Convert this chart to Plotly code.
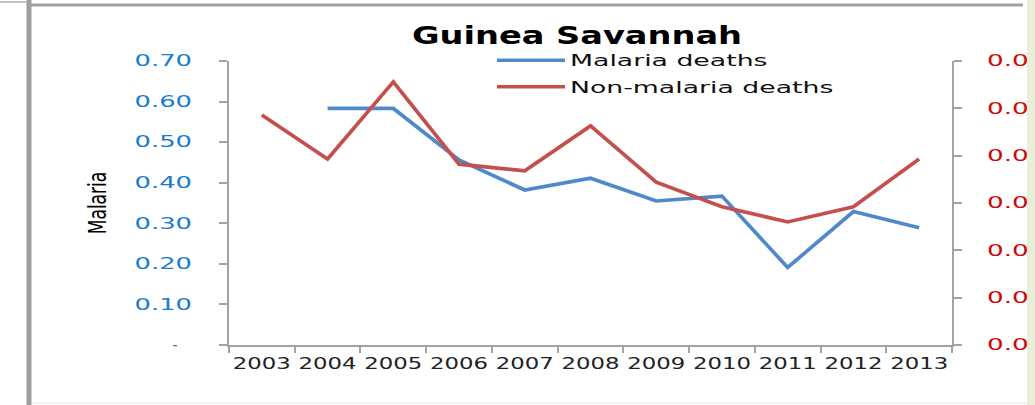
import plotly.graph_objects as go

# ---------------- data ----------------
years = ['2003', '2004', '2005', '2006', '2007', '2008', '2009', '2010', '2011', '2012', '2013']
malaria_deaths = [None, 0.583, 0.583, 0.456, 0.382, 0.411, 0.355, 0.367, 0.191, 0.329, 0.289]
non_malaria_deaths = [0.0486, 0.0393, 0.0556, 0.0382, 0.0368, 0.0463, 0.0344, 0.0292, 0.0260, 0.0292, 0.0393]

left_tickvals = [0, 0.1, 0.2, 0.3, 0.4, 0.5, 0.6, 0.7]
left_ticktext = ['-\u00a0\u00a0\u00a0', '0.10', '0.20', '0.30', '0.40', '0.50', '0.60', '0.70']
right_tickvals = [0, 0.01, 0.02, 0.03, 0.04, 0.05, 0.06]
right_ticktext = ['0.000', '0.010', '0.020', '0.030', '0.040', '0.050', '0.060']

title_text = 'Guinea Savannah'
y_title = 'Malaria'
series_names = ['Malaria deaths', 'Non-malaria deaths']

# ---------------- geometry / style ----------------
W, H = 1035, 405
PL, PR, PT, PB = 229, 952, 61, 345  # plot area in px


def px(x):
    return (x - PL) / (PR - PL)


def py(y):
    return (PB - y) / (PB - PT)


AXIS_GRAY = '#a3a3a3'
BLUE = '#5089ca'
RED = '#c4504d'
FONT = 'DejaVu Sans, Verdana, sans-serif'

fig = go.Figure()
fig.add_trace(go.Scatter(x=years, y=malaria_deaths, name=series_names[0], mode='lines',
                         legendgroup='a', line=dict(color=BLUE, width=3.7), yaxis='y'))
fig.add_trace(go.Scatter(x=years, y=non_malaria_deaths, name=series_names[1], mode='lines',
                         legendgroup='b', line=dict(color=RED, width=3.7), yaxis='y2'))

shapes = [
    # outer frame (screenshot borders)
    dict(type='line', xref='paper', yref='paper', x0=px(29), x1=px(29), y0=py(-2), y1=py(407),
         line=dict(color='#9c9c9c', width=5), layer='above'),
    dict(type='line', xref='paper', yref='paper', x0=px(29), x1=px(1023), y0=py(5), y1=py(5),
         line=dict(color='#a2a2a2', width=3), layer='above'),
    dict(type='line', xref='paper', yref='paper', x0=px(0), x1=px(27), y0=py(2), y1=py(2),
         line=dict(color='#c4c4c4', width=2), layer='above'),
    dict(type='line', xref='paper', yref='paper', x0=px(32), x1=px(1027), y0=py(403), y1=py(403),
         line=dict(color='#eeeeee', width=1.5), layer='above'),
    dict(type='rect', xref='paper', yref='paper', x0=px(1027), x1=px(1037), y0=py(407), y1=py(-2),
         fillcolor='#e9eed9', line=dict(width=0), layer='above'),
]

fig.update_layout(
    width=W, height=H,
    margin=dict(l=PL, r=W - PR, t=PT, b=H - PB, pad=0, autoexpand=False),
    paper_bgcolor='white', plot_bgcolor='white',
    showlegend=True,
    title=dict(text='<b>' + title_text + '</b>', x=577 / W, xref='container', xanchor='center',
               y=1 - 36 / H, yref='container', yanchor='middle',
               font=dict(family=FONT, size=24, color='black')),
    legend=dict(x=px(492), xanchor='left', y=py(44), yanchor='top',
                bgcolor='rgba(0,0,0,0)', borderwidth=0, itemwidth=68,
                traceorder='grouped', tracegroupgap=4,
                font=dict(family=FONT, size=15, color='#111111')),
    xaxis=dict(type='category', range=[-0.5, 10.5], showline=True, linecolor=AXIS_GRAY, linewidth=2,
               ticks='outside', ticklen=6, tickwidth=2, tickcolor=AXIS_GRAY, tickson='boundaries',
               showgrid=False, zeroline=False, ticklabelstandoff=4, automargin=False,
               tickfont=dict(family=FONT, size=15, color='#222222')),
    yaxis=dict(range=[0, 0.7], tickvals=left_tickvals, ticktext=left_ticktext,
               showline=True, linecolor=AXIS_GRAY, linewidth=2, ticks='outside', ticklen=8,
               tickwidth=2, tickcolor=AXIS_GRAY, showgrid=False, zeroline=False,
               ticklabelstandoff=24, automargin=False,
               tickfont=dict(family=FONT, size=15, color='#1a7ccc'),
               title=dict(text=y_title, standoff=49,
                          font=dict(family='Liberation Sans Narrow, DejaVu Sans Condensed, Arial Narrow, sans-serif',
                                    size=19, color='black'))),
    yaxis2=dict(range=[0, 0.06], tickvals=right_tickvals, ticktext=right_ticktext, overlaying='y',
                side='right', showline=True, linecolor=AXIS_GRAY, linewidth=2, ticks='outside',
                ticklen=8, tickwidth=2, tickcolor=AXIS_GRAY, showgrid=False, zeroline=False,
                ticklabelstandoff=22, automargin=False,
                tickfont=dict(family=FONT, size=15, color='#cc0a0a')),
    shapes=shapes,
)

# page without body margin; horizontal stretch of the text, as in the stretched reference picture
post_script = """
document.documentElement.style.margin = '0';
document.documentElement.style.overflow = 'hidden';
document.body.style.margin = '0';
document.body.style.overflow = 'hidden';
var gd = document.getElementById('{plot_id}');
function fitW(el, w) { el.setAttribute('lengthAdjust', 'spacingAndGlyphs'); el.setAttribute('textLength', w); }
function stretch(sel, k) {
  gd.querySelectorAll(sel).forEach(function(t) {
    if (/[0-9A-Za-z]/.test(t.textContent)) { fitW(t, t.getComputedTextLength() * k); }
  });
}
gd.querySelectorAll('g.legend g.scrollbox').forEach(function(g) { g.removeAttribute('clip-path'); });
stretch('text.gtitle', 1.40);
stretch('text.legendtext', 1.78);
stretch('g.xtick text', 1.52);
stretch('g.ytick text', 1.72);
stretch('g.y2tick text', 1.75);
gd.querySelectorAll('text.ytitle').forEach(function(t) {
  var b = t.getBoundingClientRect();
  var r = gd.getBoundingClientRect();
  var cx = b.left - r.left + b.width / 2;
  var tr = t.getAttribute('transform') || '';
  t.setAttribute('transform', 'translate(' + cx + ',0) scale(1.3,1) translate(' + (-cx) + ',0) ' + tr);
});
"""

fig.write_html('out.html', post_script=post_script, config={'displayModeBar': False})
